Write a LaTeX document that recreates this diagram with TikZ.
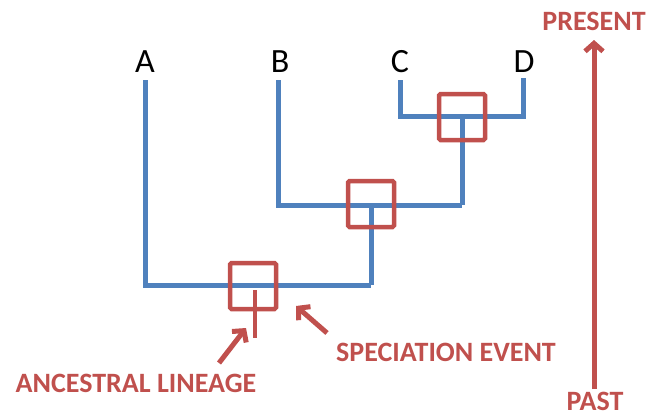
\documentclass[tikz,border=0pt]{standalone}
\usepackage{fontspec}
\setmainfont{Carlito}
\usetikzlibrary{arrows.meta}
\definecolor{treeblue}{HTML}{4F81BD}
\definecolor{evred}{HTML}{C0504D}
\begin{document}
\begin{tikzpicture}[x=1pt,y=-1pt,
  branch/.style={draw=treeblue,line width=5pt},
  evbox/.style={draw=evred,line width=4.5pt,rounded corners=1.5pt,minimum width=46pt,minimum height=46pt,inner sep=0pt},
  taxon/.style={anchor=base,font=\fontsize{34}{34}\selectfont,text=black,inner sep=0pt},
  redlabel/.style={anchor=base,font=\bfseries\fontsize{28}{28}\selectfont,text=evred,inner sep=0pt},
  pointer/.style={draw=evred,line width=5pt,-{Straight Barb[length=8pt,width=18pt,line width=5pt]}}
]
\useasboundingbox (0,0) rectangle (648,416);
% taxa labels
\node[taxon] (A) at (145,72) {A};
\node[taxon] (B) at (280,72) {B};
\node[taxon] (C) at (400,72) {C};
\node[taxon] (D) at (524,72) {D};
% tree coordinates
\coordinate (a1) at (145,80);
\coordinate (a2) at (145,285);
\coordinate (b1) at (278,80);
\coordinate (b2) at (278,205);
\coordinate (c1) at (400,80);
\coordinate (c2) at (400,116);
\coordinate (d1) at (523,78);
\coordinate (d2) at (523,116);
\coordinate (cd) at (462,116);
\coordinate (cdb) at (462,205);
\coordinate (bcd) at (371,205);
\coordinate (bcdb) at (371,285);
% tree branches
\draw[branch] (c1) -- (c2) -- (d2) -- (d1);
\draw[branch] (cd) -- (cdb);
\draw[branch] (b1) -- (b2) -- (cdb);
\draw[branch] (bcd) -- (bcdb);
\draw[branch] (a1) -- (a2) -- (bcdb);
% speciation events
\node[evbox] (e1) at (462,117) {};
\node[evbox] (e2) at (371,204) {};
\node[evbox] (e3) at (253,286) {};
% ancestral lineage stem
\coordinate (s1) at (255,290);
\coordinate (s2) at (255,338);
\draw[draw=evred,line width=4.5pt] (s1) -- (s2);
% labels
\node[redlabel] (anc) at (136,392) {ANCESTRAL LINEAGE};
\node[redlabel] (spe) at (446,361) {SPECIATION EVENT};
\node[redlabel] (pres) at (594,30) {PRESENT};
\node[redlabel] (past) at (595,410) {PAST};
% pointers
\coordinate (p1t) at (219,363);
\coordinate (p1h) at (246,328);
\coordinate (p2t) at (327,333);
\coordinate (p2h) at (296,306);
\draw[pointer] (p1t) -- (p1h);
\draw[pointer] (p2t) -- (p2h);
% time axis
\coordinate (tbot) at (594,389);
\coordinate (ttop) at (594,40);
\draw[pointer] (tbot) -- (ttop);
\end{tikzpicture}
\end{document}
